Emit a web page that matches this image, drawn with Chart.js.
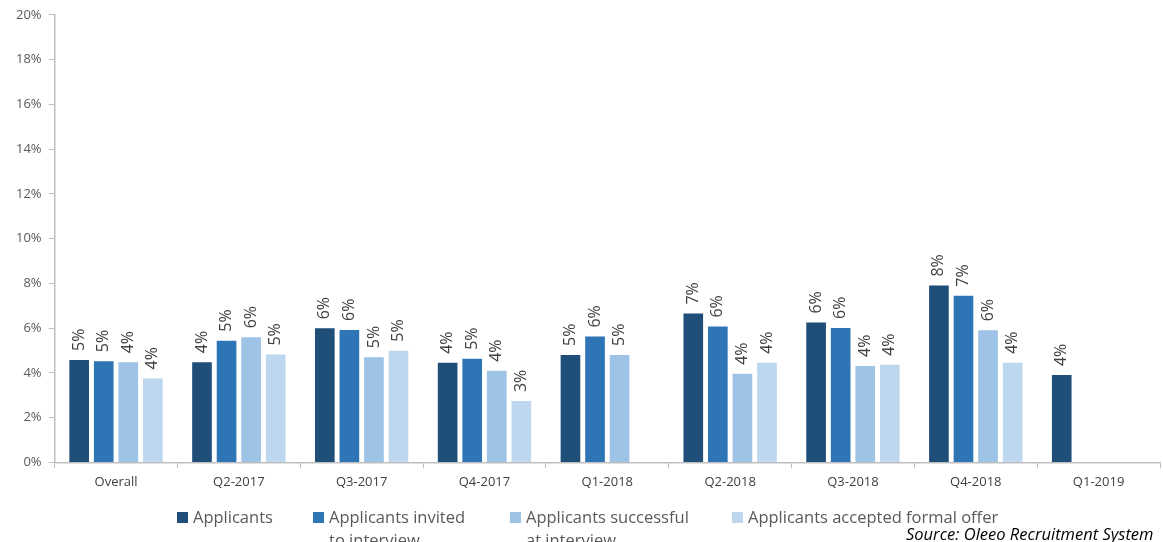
<!doctype html>
<html>

<head>
	<title>Applicant rates by quarter</title>
	<script src="https://cdn.jsdelivr.net/npm/chart.js@4/dist/chart.umd.min.js"></script>
	<style>
		html, body {
			margin: 0;
			padding: 0;
			background: #fff;
			overflow: hidden;
		}
		.wrap {
			position: relative;
			width: 1163px;
			height: 542px;
			overflow: hidden;
			font-family: "Open Sans", sans-serif;
		}
		.legend-item {
			position: absolute;
			top: 505px;
			font-size: 16.5px;
			line-height: 23px;
			color: #595959;
		}
		.legend-item .box {
			position: absolute;
			left: 0;
			top: 7px;
			width: 11px;
			height: 11px;
		}
		.legend-item .txt {
			margin-left: 16px;
		}
		.source {
			position: absolute;
			left: 906px;
			top: 522px;
			font-size: 16.5px;
			font-style: italic;
			color: #000;
		}
	</style>
</head>

<body>
	<div class="wrap">
		<canvas id="chart" width="1163" height="542"></canvas>
		<div id="legend"></div>
		<div class="source">Source: Oleeo Recruitment System</div>
	</div>
	<script>
		var categories = ['Overall', 'Q2-2017', 'Q3-2017', 'Q4-2017', 'Q1-2018', 'Q2-2018', 'Q3-2018', 'Q4-2018', 'Q1-2019'];
		var applicants = [4.58, 4.48, 5.99, 4.45, 4.80, 6.65, 6.25, 7.90, 3.90];
		var invited = [4.52, 5.44, 5.92, 4.63, 5.62, 6.07, 6.01, 7.45, null];
		var successful = [4.47, 5.59, 4.70, 4.09, 4.80, 3.96, 4.31, 5.90, null];
		var accepted = [3.75, 4.82, 4.99, 2.74, null, 4.45, 4.36, 4.45, null];
		var yTicks = [0, 2, 4, 6, 8, 10, 12, 14, 16, 18, 20];

		var series = [
			{ label: 'Applicants', data: applicants, color: '#1f4e79', legend: ['Applicants'], left: 177 },
			{ label: 'Applicants invited to interview', data: invited, color: '#2e75b6', legend: ['Applicants invited', 'to interview'], left: 313 },
			{ label: 'Applicants successful at interview', data: successful, color: '#9dc3e6', legend: ['Applicants successful', 'at interview'], left: 510 },
			{ label: 'Applicants accepted formal offer', data: accepted, color: '#bdd7ee', legend: ['Applicants accepted formal offer'], left: 732 }
		];

		// rotated value labels above each bar
		var barLabels = {
			id: 'barLabels',
			afterDatasetsDraw: function(chart) {
				var ctx = chart.ctx;
				chart.data.datasets.forEach(function(ds, i) {
					var meta = chart.getDatasetMeta(i);
					meta.data.forEach(function(bar, j) {
						var v = ds.data[j];
						if (v == null) return;
						ctx.save();
						ctx.translate(bar.x, bar.y - 9);
						ctx.rotate(-Math.PI / 2);
						ctx.font = '16px "Open Sans"';
						ctx.fillStyle = '#404040';
						ctx.textAlign = 'left';
						ctx.textBaseline = 'middle';
						ctx.fillText(Math.round(v) + '%', 0, 0);
						ctx.restore();
					});
				});
			}
		};

		window.onload = function() {
			var legend = document.getElementById('legend');
			series.forEach(function(s) {
				var item = document.createElement('div');
				item.className = 'legend-item';
				item.style.left = s.left + 'px';
				var box = document.createElement('span');
				box.className = 'box';
				box.style.background = s.color;
				var txt = document.createElement('div');
				txt.className = 'txt';
				txt.innerHTML = s.legend.join('<br>');
				item.appendChild(box);
				item.appendChild(txt);
				legend.appendChild(item);
			});

			var ctx = document.getElementById('chart').getContext('2d');
			new Chart(ctx, {
				type: 'bar',
				data: {
					labels: categories,
					datasets: series.map(function(s) {
						return {
							label: s.label,
							data: s.data,
							backgroundColor: s.color,
							categoryPercentage: 0.8,
							barPercentage: 0.8
						};
					})
				},
				options: {
					responsive: false,
					animation: false,
					layout: {
						padding: { top: 14, left: 9, right: 3, bottom: 46 }
					},
					plugins: {
						legend: { display: false },
						tooltip: { enabled: false }
					},
					scales: {
						x: {
							grid: {
								offset: true,
								drawOnChartArea: false,
								tickLength: 6,
								color: '#bfbfbf'
							},
							border: { color: '#bfbfbf', width: 1.5 },
							ticks: {
								color: '#404040',
								font: { family: 'Open Sans', size: 13 },
								padding: 6
							}
						},
						y: {
							min: 0,
							max: 20,
							afterBuildTicks: function(axis) {
								axis.ticks = yTicks.map(function(v) { return { value: v }; });
							},
							grid: {
								drawOnChartArea: false,
								tickLength: 6,
								color: '#bfbfbf'
							},
							border: { color: '#bfbfbf', width: 1.5 },
							ticks: {
								color: '#595959',
								font: { family: 'Open Sans', size: 13 },
								padding: 7,
								callback: function(v) { return v + '%'; }
							}
						}
					}
				},
				plugins: [barLabels]
			});
		};
	</script>
</body>

</html>
